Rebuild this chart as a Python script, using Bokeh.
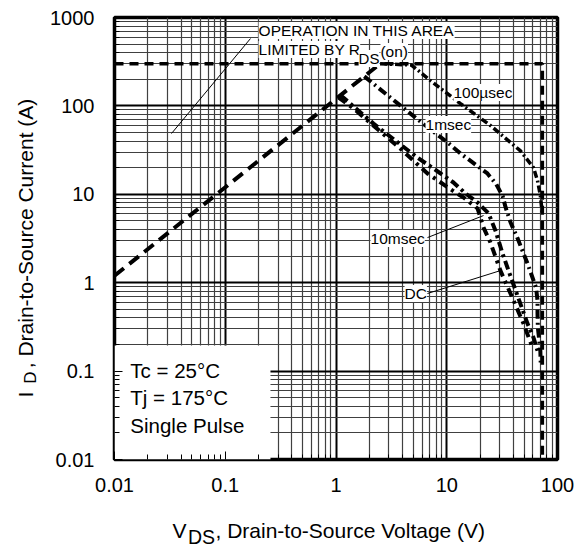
import math
from bokeh.plotting import figure
from bokeh.models import FixedTicker, Label
from bokeh.layouts import row, column
from bokeh.core.properties import value
from bokeh.embed import file_html
from bokeh.resources import INLINE

FONT = "Liberation Sans"

# ---- axis ticks ----
x_ticks = [0.01, 0.1, 1, 10, 100]
x_tick_labels = ["0.01", "0.1", "1", "10", "100"]
y_ticks = [0.01, 0.1, 1, 10, 100, 1000]
y_tick_labels = ["0.01", "0.1", "1", "10", "100", "1000"]

# ---- data (V, A) ----
rds_v = [0.01, 2.5]
rds_i = [1.2, 300]

limit_v = [0.01, 73, 73]
limit_i = [300, 300, 0.01]

us100_v = [2.5, 4.8, 7.1, 9.35, 13.3, 24.8, 46.3, 60.7, 66, 70, 73]
us100_i = [300, 290, 194, 149, 106, 60, 31, 20, 14.3, 9.7, 6]

ms1_v = [1.8, 3.1, 6.0, 10.2, 13.3, 23.3, 28, 32, 34, 37.7, 43.5, 53.6, 64, 66, 66, 66.5, 68, 70, 70.5]
ms1_i = [216, 124, 64, 38.5, 29, 17.2, 13, 9.5, 7.1, 4.8, 3.2, 1.65, 0.88, 0.63, 0.45, 0.31, 0.24, 0.17, 0.125]

ms10_v = [1.1, 2.18, 5.44, 8.8, 11.5, 14.8, 19, 23.8, 27.5, 31.9, 36.1, 44.5, 53.6, 60.7, 66]
ms10_i = [132, 63, 26, 17.2, 13.6, 10.2, 8.07, 6.1, 3.9, 2.14, 1.37, 0.66, 0.345, 0.24, 0.17]

dc_v = [1.05, 1.44, 3.98, 6.7, 11.3, 14.2, 19, 21.5, 24.8, 30.5, 40.1, 49.3, 59.4]
dc_i = [125, 93.5, 31.3, 17.2, 11.0, 9.2, 6.9, 4.2, 2.85, 1.37, 0.63, 0.345, 0.185]

# leader lines
lead_op_v = [0.0327, 0.169]
lead_op_i = [48.7, 578]
lead_10_v = [6.7, 21.5]
lead_10_i = [3.24, 5.75]
lead_dc_v = [6.7, 30.5]
lead_dc_i = [0.755, 1.37]

# conditions box region
box_v = [0.01, 0.256]
box_i = [0.01, 0.195]

LEFT_W = 46       # width of the y-title strip
BOTTOM_H = 46     # height of the x-title strip
MAIN_H = 546 - BOTTOM_H
TOP_B = 17
FRAME_H = 442
BOT_B = MAIN_H - TOP_B - FRAME_H

p = figure(x_axis_type="log", y_axis_type="log", title=None,
           x_range=(0.01, 100), y_range=(0.01, 1000),
           frame_width=443, frame_height=FRAME_H,
           min_border_left=114 - LEFT_W, min_border_right=27,
           min_border_top=TOP_B, min_border_bottom=BOT_B,
           output_backend="svg", toolbar_location=None)
p.background_fill_color = "white"
p.border_fill_color = "white"
p.outline_line_color = "black"
p.outline_line_width = 3.5

minor = [m * 10.0 ** e for e in range(-2, 3) for m in range(2, 10)]
p.xaxis.ticker = FixedTicker(ticks=x_ticks, minor_ticks=[t for t in minor if t < 100])
p.yaxis.ticker = FixedTicker(ticks=y_ticks, minor_ticks=[t for t in minor if t < 1000])
p.xaxis.major_label_overrides = {t: s for t, s in zip(x_ticks, x_tick_labels)}
p.yaxis.major_label_overrides = {t: s for t, s in zip(y_ticks, y_tick_labels)}

for ax in (p.xaxis, p.yaxis):
    ax.axis_line_color = None
    ax.major_tick_in = 8
    ax.major_tick_out = 0
    ax.minor_tick_in = 5
    ax.minor_tick_out = 0
    ax.major_tick_line_color = "black"
    ax.minor_tick_line_color = "black"
    ax.major_label_text_font = FONT
    ax.major_label_text_font_size = "20px"
    ax.major_label_text_color = "black"
p.xaxis.major_label_standoff = 18
p.yaxis.major_label_standoff = 20

for g in (p.xgrid, p.ygrid):
    g.grid_line_color = "black"
    g.grid_line_width = 2
    g.grid_line_alpha = 1
    g.minor_grid_line_color = "#404040"
    g.minor_grid_line_width = 1.2

# white region behind conditions text
p.quad(left=box_v[0], right=box_v[1], bottom=box_i[0], top=box_i[1],
       fill_color="white", line_color=None)

# leader lines
for lv, li in ((lead_op_v, lead_op_i), (lead_10_v, lead_10_i), (lead_dc_v, lead_dc_i)):
    p.line(lv, li, line_color="black", line_width=1)

# curves
p.line(limit_v, limit_i, line_color="black", line_width=3.5, line_dash="9 6")
p.line(rds_v, rds_i, line_color="black", line_width=4, line_dash="12 7")
p.line(us100_v, us100_i, line_color="black", line_width=3.5, line_dash="7 3 2 3")
p.line(ms1_v, ms1_i, line_color="black", line_width=4, line_dash="9 4 2 4")
p.line(ms10_v, ms10_i, line_color="black", line_width=4, line_dash="9 4 3 4")
p.line(dc_v, dc_i, line_color="black", line_width=4, line_dash="9 5 3 5")

def lab(x, y, text, size="15.5px", bg=True):
    l = Label(x=x, y=y, text=text, text_font=FONT, text_font_size=size,
              text_color="black", text_baseline="middle", text_align="left")
    if bg:
        l.background_fill_color = "white"
    p.add_layout(l)
    return l

lab(0.2, 713, "OPERATION IN THIS AREA")
lab(0.2, 435, "LIMITED BY R")
lab(1.6, 344, "DS", size="15px")
lab(2.52, 412, "(on)")
lab(11.5, 142, "100µsec")
lab(6.43, 61.6, "1msec")
lab(2.05, 3.16, "10msec")
lab(4.16, 0.755, "DC")

lab(0.0139, 0.1016, "Tc = 25°C", size="20.5px", bg=False)
lab(0.0139, 0.0502, "Tj = 175°C", size="20.5px", bg=False)
lab(0.0139, 0.0243, "Single Pulse", size="20.5px", bg=False)


def strip(w, h, **kw):
    f = figure(width=w, height=h, title=None,
               x_axis_location=None, y_axis_location=None,
               output_backend="svg", toolbar_location=None, **kw)
    f.grid.visible = False
    f.outline_line_color = None
    f.background_fill_color = "white"
    f.border_fill_color = "white"
    return f

# y-axis title strip: its frame lines up with the main frame (page y 17..459),
# so y = (459 - page_y); x = page px
FRAME_BOTTOM = TOP_B + FRAME_H
yf = strip(LEFT_W, MAIN_H, x_range=(0, LEFT_W), y_range=(0, FRAME_H),
           frame_height=FRAME_H, frame_width=LEFT_W,
           min_border_left=0, min_border_right=0,
           min_border_top=TOP_B, min_border_bottom=BOT_B)
ang = math.pi / 2
yf.text(x=[25], y=[FRAME_BOTTOM - 394], text=["I"], angle=ang,
        text_font=value(FONT), text_font_size="21px", text_color="black",
        text_baseline="middle", text_align="center")
yf.text(x=[30], y=[FRAME_BOTTOM - 377], text=["D"], angle=ang,
        text_font=value(FONT), text_font_size="17px", text_color="black",
        text_baseline="middle", text_align="center")
yf.text(x=[25], y=[FRAME_BOTTOM - 233], text=[", Drain-to-Source Current (A)"], angle=ang,
        text_font=value(FONT), text_font_size="21px", text_color="black",
        text_baseline="middle", text_align="center")

# x-axis title strip (x = page px, y = px up from page bottom)
xf = strip(584, BOTTOM_H, x_range=(0, 584), y_range=(0, BOTTOM_H), min_border=0)
xf.text(x=[172], y=[546 - 530], text=["V"],
        text_font=value(FONT), text_font_size="21px", text_color="black",
        text_baseline="alphabetic", text_align="left")
xf.text(x=[187.5], y=[546 - 536], text=["DS"],
        text_font=value(FONT), text_font_size="19.5px", text_color="black",
        text_baseline="alphabetic", text_align="left")
xf.text(x=[215], y=[546 - 530], text=[", Drain-to-Source Voltage (V)"],
        text_font=value(FONT), text_font_size="21px", text_color="black",
        text_baseline="alphabetic", text_align="left")

layout = column(row(yf, p, spacing=0), xf, spacing=0)

open("out.html", "w").write(file_html(layout, INLINE))
